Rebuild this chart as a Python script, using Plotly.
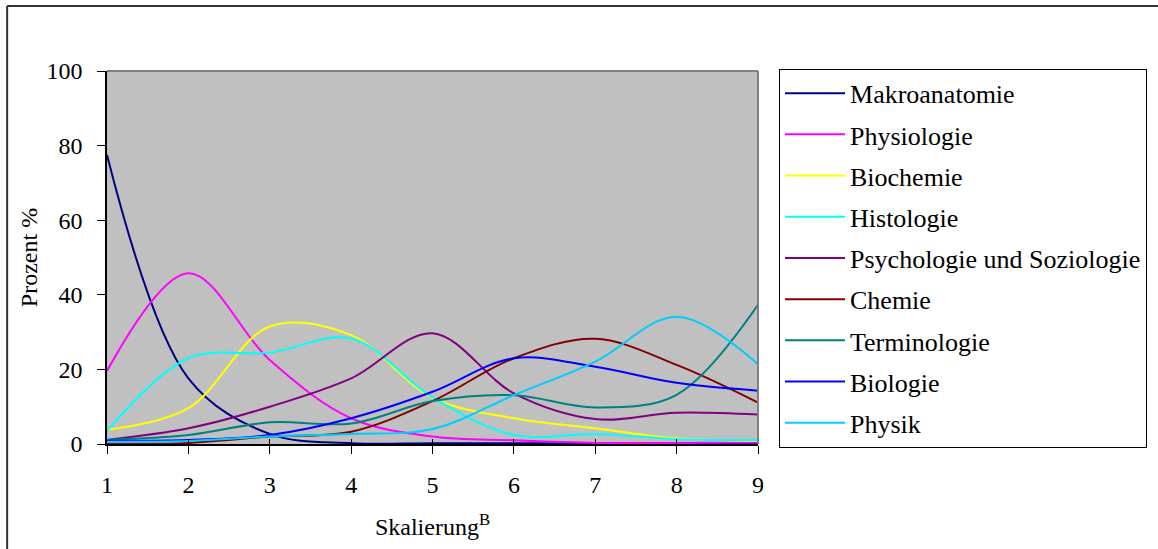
import plotly.graph_objects as go

# Scale steps on the x axis
skalierung = [1, 2, 3, 4, 5, 6, 7, 8, 9]

# Share of answers (%) per subject at each scale step
makroanatomie = [77.5, 17.6, 2.7, 0.2, 0.2, 0.2, 0.2, 0.2, 0.2]
physiologie = [19.6, 45.8, 22.5, 6.9, 2.0, 1.0, 0.3, 0.3, 0.4]
biochemie = [3.8, 9.6, 31.5, 29.2, 12.4, 6.9, 4.2, 1.5, 0.9]
histologie = [3.5, 23.0, 24.5, 28.3, 12.5, 2.4, 2.7, 1.3, 1.1]
psychologie = [1.1, 4.2, 10.0, 17.6, 29.7, 13.6, 6.7, 8.4, 7.9]
chemie = [0.0, 0.3, 2.0, 3.3, 11.5, 23.0, 28.2, 21.2, 11.1]
terminologie = [1.1, 2.4, 5.8, 5.5, 11.5, 13.1, 9.8, 13.2, 37.3]
biologie = [0.9, 1.1, 2.4, 6.9, 14.0, 23.0, 20.7, 16.4, 14.3]
physik = [0.6, 0.8, 2.0, 2.7, 4.0, 13.1, 22.1, 34.1, 21.4]

series = [
    ("Makroanatomie", makroanatomie, "#000080"),
    ("Physiologie", physiologie, "#FF00FF"),
    ("Biochemie", biochemie, "#FFFF00"),
    ("Histologie", histologie, "#00FFFF"),
    ("Psychologie und Soziologie", psychologie, "#800080"),
    ("Chemie", chemie, "#800000"),
    ("Terminologie", terminologie, "#008080"),
    ("Biologie", biologie, "#0000FF"),
    ("Physik", physik, "#00CCFF"),
]

FONT = "Liberation Serif"

fig = go.Figure()
for name, values, color in series:
    fig.add_trace(go.Scatter(
        x=skalierung, y=values, name=name, mode="lines",
        legendgroup=name,
        line=dict(color=color, width=2, shape="spline", smoothing=1),
    ))

# Invisible helper trace so the upper tick half can be drawn on xaxis2
fig.add_trace(go.Scatter(x=[1, 9], y=[0, 0], xaxis="x2", mode="lines",
                         line=dict(width=0), showlegend=False, hoverinfo="skip"))

# plot area spans 107..759 px horizontally and 71..444 px vertically
fig.update_layout(
    width=1158, height=549,
    margin=dict(l=107, r=399, t=71, b=105),
    paper_bgcolor="white",
    plot_bgcolor="#C0C0C0",
    font=dict(family=FONT, size=24, color="black"),
    showlegend=True,
    legend=dict(
        x=1.0307, y=1.006, xanchor="left", yanchor="top",
        bgcolor="white", bordercolor="black", borderwidth=1,
        font=dict(family=FONT, size=26, color="black"),
        tracegroupgap=4.4, itemwidth=60, maxheight=520,
    ),
    xaxis=dict(
        range=[1, 9], tickvals=skalierung, ticktext=[str(v) for v in skalierung],
        showgrid=False, zeroline=False,
        showline=True, linecolor="black", linewidth=1.5,
        ticks="outside", ticklen=8, tickcolor="black", tickwidth=1,
        ticklabelstandoff=10,
        title=dict(text="Skalierung<sup>B</sup>", standoff=22,
                   font=dict(family=FONT, size=24)),
    ),
    xaxis2=dict(
        range=[1, 9], overlaying="x", anchor="y", side="bottom",
        tickvals=skalierung, showticklabels=False,
        showgrid=False, zeroline=False, showline=False,
        ticks="inside", ticklen=5, tickcolor="black", tickwidth=1,
    ),
    yaxis=dict(
        range=[0, 100], tickvals=[0, 20, 40, 60, 80, 100],
        showgrid=False, zeroline=False,
        showline=True, linecolor="black", linewidth=1.5,
        ticks="outside", ticklen=8, tickcolor="black", tickwidth=1,
        ticklabelstandoff=10,
        title=dict(text="Prozent %", standoff=2,
                   font=dict(family=FONT, size=24)),
    ),
    shapes=[
        # grey top and right edges of the plot area
        dict(type="line", xref="paper", yref="paper", x0=0, x1=1, y0=1, y1=1,
             line=dict(color="#808080", width=2), layer="above"),
        dict(type="line", xref="paper", yref="paper", x0=1, x1=1, y0=0, y1=1,
             line=dict(color="#808080", width=2), layer="above"),
        # outer chart frame
        dict(type="line", xref="paper", yref="paper",
             x0=-0.1534, x1=1.62, y0=1.1743, y1=1.1743,
             line=dict(color="#333333", width=2)),
        dict(type="line", xref="paper", yref="paper",
             x0=-0.1534, x1=-0.1534, y0=1.1743, y1=-0.3,
             line=dict(color="#333333", width=2)),
    ],
)

fig.write_html("out.html")
